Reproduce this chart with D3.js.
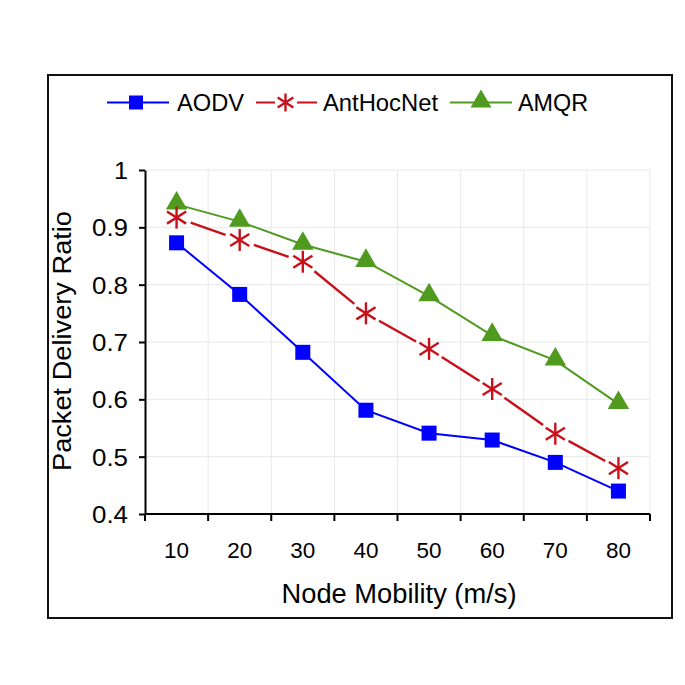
<!DOCTYPE html>
<html><head><meta charset="utf-8">
<script src="https://cdn.jsdelivr.net/npm/d3@7"></script>
<style>body{margin:0;background:#fff}svg{display:block}text{font-family:"Liberation Sans",Arial,sans-serif}</style>
</head><body><svg id="c" width="685" height="685"></svg>
<script>
const categories = ["10","20","30","40","50","60","70","80"];
const aodv = [0.873,0.783,0.682,0.581,0.541,0.529,0.490,0.440];
const antHocNet = [0.917,0.878,0.840,0.750,0.688,0.618,0.540,0.480];
const amqr = [0.940,0.910,0.870,0.840,0.780,0.711,0.668,0.592];
const yTicks = [0.4,0.5,0.6,0.7,0.8,0.9,1];
const seriesNames = ["AODV","AntHocNet","AMQR"];

const svg = d3.select("#c");
svg.append("rect").attr("x",48).attr("y",75).attr("width",624).attr("height",543)
  .attr("fill","#fff").attr("stroke","#111").attr("stroke-width",2);

const L=145,R=650,T=170,B=514;
const x = d3.scaleBand().domain(categories).range([L,R]);
const y = d3.scaleLinear().domain([0.4,1]).range([B,T]);
const g = svg.append("g");

// gridlines
g.selectAll(".hg").data(yTicks.slice(1)).join("line")
  .attr("x1",L).attr("x2",R).attr("y1",d=>y(d)).attr("y2",d=>y(d))
  .attr("stroke","#e8e8e8").attr("stroke-width",1);
const bounds = categories.map(c=>x(c)+x.bandwidth());
g.selectAll(".vg").data(bounds).join("line")
  .attr("x1",d=>d).attr("x2",d=>d).attr("y1",T).attr("y2",B)
  .attr("stroke","#e8e8e8").attr("stroke-width",1);

// axes
const yAxis = g.append("g").attr("transform",`translate(${L},0)`)
  .call(d3.axisLeft(y).tickValues(yTicks).tickSize(6).tickSizeOuter(0).tickFormat(d=>d3.format("")(d)));
yAxis.attr("font-size",null).attr("font-family",null);
yAxis.select(".domain").attr("stroke","#000").attr("stroke-width",2);
yAxis.selectAll(".tick line").attr("stroke-width",2);
yAxis.selectAll("text").style("font-size","24px").attr("x",-17).attr("dy","0.36em").attr("fill","#000")
  .attr("textLength",d=>d===1?14:36).attr("lengthAdjust","spacingAndGlyphs");

const xAxis = g.append("g").attr("transform",`translate(0,${B})`)
  .call(d3.axisBottom(x).tickSize(0).tickSizeOuter(0));
xAxis.attr("font-size",null).attr("font-family",null);
xAxis.select(".domain").attr("stroke","#000").attr("stroke-width",2).attr("d",`M${L},0H${R}`);
xAxis.selectAll("text").style("font-size","22px").attr("y",44).attr("dy",0).attr("fill","#000")
  .attr("textLength",25).attr("lengthAdjust","spacingAndGlyphs");
g.selectAll(".xt").data([L].concat(bounds)).join("line")
  .attr("x1",d=>d).attr("x2",d=>d).attr("y1",B).attr("y2",B+7)
  .attr("stroke","#000").attr("stroke-width",2);

svg.append("text").attr("x",399).attr("y",603).attr("text-anchor","middle")
  .style("font-size","27px").attr("textLength",235).attr("lengthAdjust","spacingAndGlyphs").text("Node Mobility (m/s)");
svg.append("text").attr("transform","translate(71,341) rotate(-90)").attr("text-anchor","middle")
  .style("font-size","25px").attr("textLength",260).attr("lengthAdjust","spacingAndGlyphs").text("Packet Delivery Ratio");

const cx = c=>x(c)+x.bandwidth()/2;
const colors = {AODV:"#0000ff",AntHocNet:"#c8101a",AMQR:"#4f9a1f"};

// AODV
const line = d3.line().x((d,i)=>cx(categories[i])).y(d=>y(d));
g.append("path").attr("d",line(aodv)).attr("fill","none").attr("stroke",colors.AODV).attr("stroke-width",2);
g.selectAll(".sq").data(aodv).join("rect")
  .attr("x",(d,i)=>cx(categories[i])-7.5).attr("y",d=>y(d)-7.5).attr("width",15).attr("height",15).attr("fill",colors.AODV);

// AMQR
g.append("path").attr("d",line(amqr)).attr("fill","none").attr("stroke",colors.AMQR).attr("stroke-width",2);
const tri = d3.symbol().type(d3.symbolTriangle).size(200);
g.selectAll(".tr").data(amqr).join("path")
  .attr("transform",(d,i)=>`translate(${cx(categories[i])},${y(d)-1})`).attr("d",tri()).attr("fill",colors.AMQR);

// AntHocNet with gaps around markers
const gap = 15;
for(let i=0;i<antHocNet.length-1;i++){
  const x1=cx(categories[i]),y1=y(antHocNet[i]),x2=cx(categories[i+1]),y2=y(antHocNet[i+1]);
  const len=Math.hypot(x2-x1,y2-y1),ux=(x2-x1)/len,uy=(y2-y1)/len;
  g.append("line").attr("x1",x1+ux*gap).attr("y1",y1+uy*gap).attr("x2",x2-ux*gap).attr("y2",y2-uy*gap)
    .attr("stroke",colors.AntHocNet).attr("stroke-width",2.4);
}
function star(sel,px,py,r){
  const s=sel.append("g").attr("transform",`translate(${px},${py})`);
  [[0,-r,0,r],[-r*0.87,-r*0.55,r*0.87,r*0.55],[-r*0.87,r*0.55,r*0.87,-r*0.55]].forEach(a=>{
    s.append("line").attr("x1",a[0]).attr("y1",a[1]).attr("x2",a[2]).attr("y2",a[3])
      .attr("stroke",colors.AntHocNet).attr("stroke-width",2.4);
  });
}
antHocNet.forEach((d,i)=>star(g,cx(categories[i]),y(d),11));

// legend
const lg = svg.append("g");
const ly=102.5;
lg.append("line").attr("x1",107).attr("x2",169).attr("y1",ly).attr("y2",ly).attr("stroke",colors.AODV).attr("stroke-width",2);
lg.append("rect").attr("x",129).attr("y",ly-7).attr("width",14).attr("height",14).attr("fill",colors.AODV);
lg.append("text").attr("x",177).attr("y",110.5).style("font-size","24px").attr("textLength",67).attr("lengthAdjust","spacingAndGlyphs").text(seriesNames[0]);
lg.append("line").attr("x1",256).attr("x2",275).attr("y1",ly).attr("y2",ly).attr("stroke",colors.AntHocNet).attr("stroke-width",2);
lg.append("line").attr("x1",297).attr("x2",317).attr("y1",ly).attr("y2",ly).attr("stroke",colors.AntHocNet).attr("stroke-width",2);
star(lg,285.5,ly,9);
lg.append("text").attr("x",323).attr("y",110.5).style("font-size","24px").attr("textLength",115).attr("lengthAdjust","spacingAndGlyphs").text(seriesNames[1]);
lg.append("line").attr("x1",450).attr("x2",512).attr("y1",ly).attr("y2",ly).attr("stroke",colors.AMQR).attr("stroke-width",2);
lg.append("path").attr("transform",`translate(481,${ly-1})`).attr("d",d3.symbol().type(d3.symbolTriangle).size(190)()).attr("fill",colors.AMQR);
lg.append("text").attr("x",518).attr("y",110.5).style("font-size","24px").attr("textLength",70).attr("lengthAdjust","spacingAndGlyphs").text(seriesNames[2]);
</script></body></html>
